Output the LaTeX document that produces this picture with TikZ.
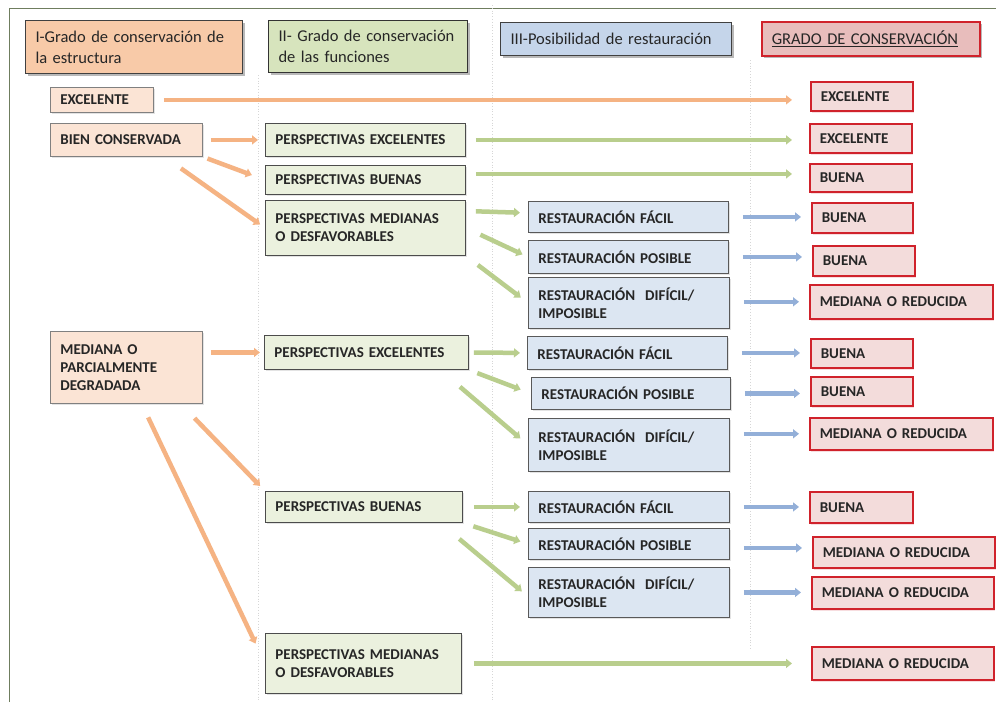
\documentclass[tikz,border=0pt]{standalone}
\usepackage{fontspec}
\setmainfont{Carlito}
\usetikzlibrary{arrows.meta,calc,shadows}
\definecolor{hAfill}{HTML}{F8CAA8}
\definecolor{cAfill}{HTML}{FBE4D5}
\definecolor{hBfill}{HTML}{D7E4BD}
\definecolor{cBfill}{HTML}{EBF1DE}
\definecolor{hCfill}{HTML}{C5D5EA}
\definecolor{cCfill}{HTML}{DCE6F2}
\definecolor{hDfill}{HTML}{E8BDBC}
\definecolor{cDfill}{HTML}{F3DCDB}
\definecolor{redline}{HTML}{D0222B}
\definecolor{oarrow}{HTML}{F5B383}
\definecolor{garrow}{HTML}{B9CE8D}
\definecolor{barrow}{HTML}{93AFD8}
\definecolor{framec}{HTML}{6F7D5E}
\definecolor{sepc}{HTML}{D6D6D6}
\newcommand\hdrfont{\fontsize{16.5}{21}\selectfont\hyphenpenalty=10000 }
\newcommand\bodyfont{\bfseries\fontsize{15}{18}\selectfont\hyphenpenalty=10000 }
\begin{document}
\begin{tikzpicture}[x=1pt,y=-1pt,
  bx/.style={draw, rectangle, anchor=north west, inner xsep=10pt, inner ysep=0pt,
    align=left, font=\bodyfont, text=black!85},
  lightshadow/.style={drop shadow={shadow xshift=1.5pt, shadow yshift=-1.5pt, opacity=0.22}},
  hdr/.style={bx, font=\hdrfont, line width=1pt,
    drop shadow={shadow xshift=2.5pt, shadow yshift=-2.5pt, opacity=0.55}},
  cA/.style={bx, fill=cAfill, draw=black!50, line width=0.8pt, lightshadow},
  cB/.style={bx, fill=cBfill, draw=black!70, line width=0.9pt, lightshadow},
  cC/.style={bx, fill=cCfill, draw=black!65, line width=0.9pt, lightshadow},
  cD/.style={bx, fill=cDfill, draw=redline, line width=1.6pt,
    drop shadow={shadow xshift=1.5pt, shadow yshift=-2pt, opacity=0.25, fill=redline!60}},
  arr/.style={line width=4.5pt, -{Triangle[length=6pt,width=9pt]}},
  oarr/.style={arr, draw=oarrow},
  garr/.style={arr, draw=garrow},
  barr/.style={arr, draw=barrow, shorten <=14pt, shorten >=10pt},
  sepline/.style={draw=sepc, line width=0.8pt, dotted}
]
\useasboundingbox[fill=white] (0,0) rectangle (996,702);
% frame and separators
\draw[framec, line width=1pt] (9,702) -- (9,8) -- (996,8);
\draw[sepline] (258,75) -- (258,702);
\draw[sepline] (492,5) -- (492,702);
\draw[sepline] (750,60) -- (750,650);

% headers
\node[hdr, fill=hAfill, draw=black!75, minimum width=217pt, minimum height=53pt, text width=197pt] (h1) at (25,20) {\mbox{I-Grado de conservación de}\\la estructura};
\node[hdr, fill=hBfill, draw=black!80, minimum width=199pt, minimum height=52pt, text width=179pt] (h2) at (268,20) {\mbox{II- Grado de conservación}\\de las funciones};
\node[hdr, fill=hCfill, draw=black!75, minimum width=231pt, minimum height=33pt, text width=211pt] (h3) at (500,22) {\mbox{III-Posibilidad de restauración}};
\node[hdr, fill=hDfill, draw=redline, line width=1.6pt, minimum width=218pt, minimum height=34pt, text width=198pt] (h4) at (761,21) {\underline{GRADO DE CONSERVACIÓN}};

% column I
\node[cA, minimum width=103pt, minimum height=25pt, text width=83pt] (exc1) at (50,87) {EXCELENTE};
\node[cA, minimum width=152pt, minimum height=33pt, text width=132pt] (bien) at (50,123) {\mbox{BIEN CONSERVADA}};
\node[cA, minimum width=152pt, minimum height=72pt, text width=132pt] (med) at (50,331) {MEDIANA O\\PARCIALMENTE\\DEGRADADA};

% column II
\node[cB, minimum width=200pt, minimum height=33pt, text width=180pt] (pe1) at (265,123) {\mbox{PERSPECTIVAS EXCELENTES}};
\node[cB, minimum width=200pt, minimum height=29pt, text width=180pt] (pb1) at (265,165) {\mbox{PERSPECTIVAS BUENAS}};
\node[cB, minimum width=200pt, minimum height=55pt, text width=180pt] (pm1) at (265,200) {\mbox{PERSPECTIVAS MEDIANAS}\\O DESFAVORABLES};
\node[cB, minimum width=204pt, minimum height=34pt, text width=184pt] (pe2) at (264,335) {\mbox{PERSPECTIVAS EXCELENTES}};
\node[cB, minimum width=197pt, minimum height=31pt, text width=177pt] (pb2) at (265,491) {\mbox{PERSPECTIVAS BUENAS}};
\node[cB, minimum width=196pt, minimum height=60pt, text width=176pt] (pm2) at (265,633) {\mbox{PERSPECTIVAS MEDIANAS}\\O DESFAVORABLES};

% column III
\node[cC, minimum width=200pt, minimum height=31pt, text width=180pt] (fac1) at (528,201) {\mbox{RESTAURACIÓN FÁCIL}};
\node[cC, minimum width=200pt, minimum height=33pt, text width=180pt] (pos1) at (528,240) {\mbox{RESTAURACIÓN POSIBLE}};
\node[cC, minimum width=201pt, minimum height=51pt, text width=181pt] (dif1) at (528,277) {\mbox{RESTAURACIÓN~~DIFÍCIL/}\\IMPOSIBLE};
\node[cC, minimum width=200pt, minimum height=33pt, text width=180pt] (fac2) at (527,336) {\mbox{RESTAURACIÓN FÁCIL}};
\node[cC, minimum width=199pt, minimum height=32pt, text width=179pt] (pos2) at (531,377) {\mbox{RESTAURACIÓN POSIBLE}};
\node[cC, minimum width=201pt, minimum height=53pt, text width=181pt] (dif2) at (528,418) {\mbox{RESTAURACIÓN~~DIFÍCIL/}\\IMPOSIBLE};
\node[cC, minimum width=201pt, minimum height=31pt, text width=181pt] (fac3) at (528,491) {\mbox{RESTAURACIÓN FÁCIL}};
\node[cC, minimum width=201pt, minimum height=31pt, text width=181pt] (pos3) at (528,528) {\mbox{RESTAURACIÓN POSIBLE}};
\node[cC, minimum width=201pt, minimum height=50pt, text width=181pt] (dif3) at (528,567) {\mbox{RESTAURACIÓN~~DIFÍCIL/}\\IMPOSIBLE};

% column IV
\node[cD, minimum width=102pt, minimum height=29pt, text width=82pt] (f1) at (810,81) {EXCELENTE};
\node[cD, minimum width=102pt, minimum height=29pt, text width=82pt] (f2) at (809,123) {EXCELENTE};
\node[cD, minimum width=102pt, minimum height=28pt, text width=82pt] (f3) at (809,163) {BUENA};
\node[cD, minimum width=101pt, minimum height=30pt, text width=81pt] (f4) at (811,202) {BUENA};
\node[cD, minimum width=102pt, minimum height=30pt, text width=82pt] (f5) at (812,245) {BUENA};
\node[cD, minimum width=183pt, minimum height=34pt, text width=163pt] (f6) at (809,284) {\mbox{MEDIANA O REDUCIDA}};
\node[cD, minimum width=102pt, minimum height=29pt, text width=82pt] (f7) at (810,338) {BUENA};
\node[cD, minimum width=102pt, minimum height=29pt, text width=82pt] (f8) at (810,376) {BUENA};
\node[cD, minimum width=183pt, minimum height=32pt, text width=163pt] (f9) at (809,417) {\mbox{MEDIANA O REDUCIDA}};
\node[cD, minimum width=103pt, minimum height=31pt, text width=83pt] (f10) at (809,491) {BUENA};
\node[cD, minimum width=182pt, minimum height=31pt, text width=162pt] (f11) at (812,536) {\mbox{MEDIANA O REDUCIDA}};
\node[cD, minimum width=182pt, minimum height=32pt, text width=162pt] (f12) at (811,576) {\mbox{MEDIANA O REDUCIDA}};
\node[cD, minimum width=182pt, minimum height=33pt, text width=162pt] (f13) at (811,646) {\mbox{MEDIANA O REDUCIDA}};

% orange arrows
\draw[oarr, shorten <=10pt, shorten >=18pt] (exc1.east) -- (exc1.east -| f1.west);
\draw[oarr, shorten <=8pt, shorten >=7pt] (bien.east |- pe1.west) -- (pe1.west);
\draw[oarr, shorten <=5pt, shorten >=14pt] (bien.south east) -- (pb1.west);
\draw[oarr, shorten <=20pt, shorten >=6pt] ($(bien.south west)!0.75!(bien.south east)$) -- (pm1.west);
\draw[oarr, shorten <=8pt, shorten >=4pt] (med.east |- pe2.west) -- (pe2.west);
\draw[oarr, shorten <=20pt, shorten >=7pt] ($(med.south west)!0.855!(med.south east)$) -- (pb2.north west);
\draw[oarr, shorten <=15pt, shorten >=22pt] ($(med.south west)!0.6!(med.south east)$) -- (pm2.west);

% green arrows
\draw[garr, shorten <=10pt, shorten >=17pt] (pe1.east) -- (pe1.east -| f2.west);
\draw[garr, shorten <=10pt, shorten >=17pt] ($(pb1.east)+(0,-6)$) -- ($(pb1.east -| f3.west)+(0,-6)$);
\draw[garr, shorten <=10pt, shorten >=8pt] ($(pm1.north east)+(0,11)$) -- ($(fac1.west)+(0,-4)$);
\draw[garr, shorten <=16pt, shorten >=6pt] (pm1.east) -- (pos1.west);
\draw[garr, shorten <=15pt, shorten >=9pt] (pm1.south east) -- (dif1.west);
\draw[garr, shorten <=5pt, shorten >=7pt] (pe2.east) -- (fac2.west);
\draw[garr, shorten <=9pt, shorten >=11pt] (pe2.south east) -- (pos2.west);
\draw[garr, shorten <=26pt, shorten >=10pt] ($(pe2.south west)!0.86!(pe2.south east)$) -- (dif2.west);
\draw[garr, shorten <=11pt, shorten >=8pt] (pb2.east) -- (pb2.east -| fac3.west);
\draw[garr, shorten <=11pt, shorten >=8pt] (pb2.south east) -- (pos3.west);
\draw[garr, shorten <=25pt, shorten >=8pt] ($(pb2.south west)!0.885!(pb2.south east)$) -- ($(dif3.west)+(0,4)$);
\draw[garr, shorten <=12pt, shorten >=19pt] (pm2.east) -- (pm2.east -| f13.west);

% blue arrows
\draw[barr] (fac1.east) -- (fac1.east -| f4.west);
\draw[barr] (pos1.east) -- (pos1.east -| f5.west);
\draw[barr] (dif1.east |- f6.west) -- (f6.west);
\draw[barr] (fac2.east) -- (fac2.east -| f7.west);
\draw[barr] (pos2.east) -- (pos2.east -| f8.west);
\draw[barr] (dif2.east |- f9.west) -- (f9.west);
\draw[barr] (fac3.east) -- (fac3.east -| f10.west);
\draw[barr] ($(pos3.east)+(0,4)$) -- ($(pos3.east -| f11.west)+(0,4)$);
\draw[barr] (dif3.east) -- (dif3.east -| f12.west);
\end{tikzpicture}
\end{document}
